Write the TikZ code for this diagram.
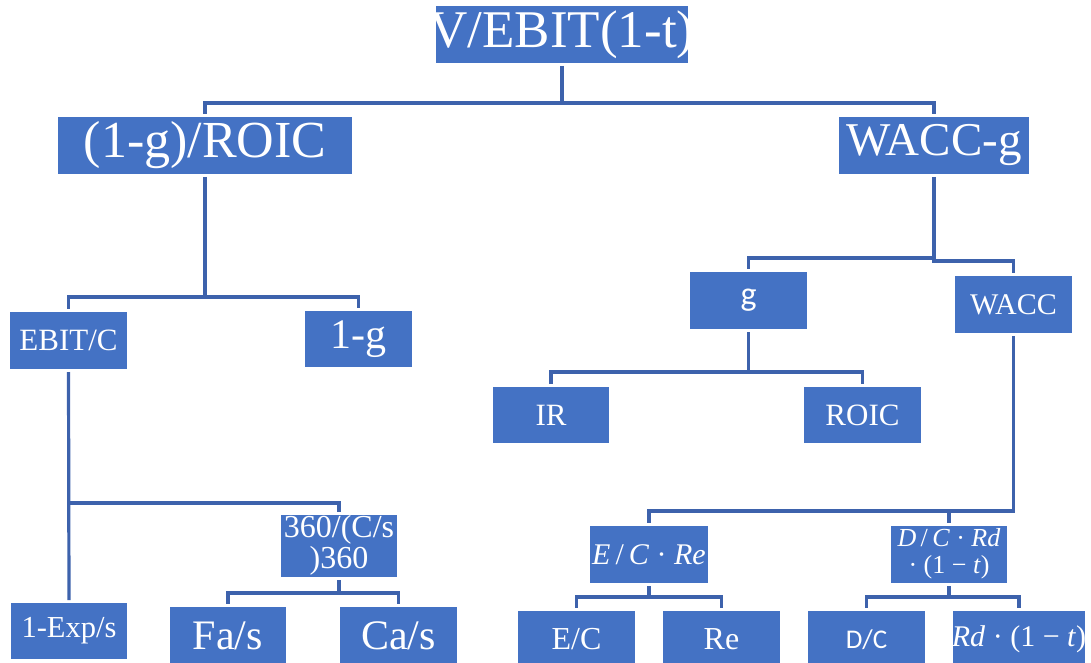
\documentclass[tikz,border=0pt]{standalone}
\usepackage{fontspec}
\setmainfont{Liberation Serif}
\newfontfamily\calsans{Carlito}
\definecolor{boxblue}{HTML}{4472C4}
\definecolor{linkblue}{HTML}{3D62AC}

% font size in px-sized points
\newcommand\fsz[1]{\fontsize{#1}{#1}\selectfont}
% zero-width centred label, so the box size is fixed by the style alone
\newcommand\lbl[2]{\makebox[0pt][c]{\fsz{#1}#2}}
\newcommand\twolines[4]{\makebox[0pt][c]{\fontsize{#1}{#2}\selectfont
  \begin{tabular}{@{}c@{}}#3\\#4\end{tabular}}}
% italic formula pieces
\newcommand\iv[1]{\textit{#1}}

\begin{document}
\begin{tikzpicture}[x=1pt,y=-1pt,
  box/.style={rectangle,fill=boxblue,text=white,inner sep=0pt,outer sep=0pt},
  link/.style={draw=linkblue,line width=3.2pt},
  fromnode/.style={shorten <=3pt},
  tonode/.style={shorten >=3pt},
]
\useasboundingbox (0,0) rectangle (1091,663);

% ---- boxes ----
\node[box,minimum width=252pt,minimum height=57pt] (top)   at (562,34.5)   {\lbl{53}{V/EBIT(1-t)}};
\node[box,minimum width=294pt,minimum height=57pt] (roicq) at (205,145.5)  {\lbl{52}{(1-g)/ROIC}};
\node[box,minimum width=190pt,minimum height=57pt] (waccg) at (934,145.5)  {\lbl{47}{WACC-g}};

\node[box,minimum width=117pt,minimum height=57pt] (ebitc) at (68.5,340.5) {\lbl{31}{EBIT/C}};
\node[box,minimum width=107pt,minimum height=56pt] (oneg)  at (358.5,339)  {\lbl{42}{1-g}};
\node[box,minimum width=117pt,minimum height=57pt] (g)     at (748.5,300.5){\lbl{34}{\calsans g}};
\node[box,minimum width=117pt,minimum height=57pt] (wacc)  at (1013.5,304.5){\lbl{30}{WACC}};

\node[box,minimum width=116pt,minimum height=56pt] (ir)    at (551,415)    {\lbl{31}{IR}};
\node[box,minimum width=117pt,minimum height=56pt] (roic)  at (862.5,415)  {\lbl{31}{ROIC}};

\node[box,minimum width=116pt,minimum height=56pt] (days)  at (339,546)    {\twolines{32}{30}{360/(C/s}{)360}};
\node[box,minimum width=118pt,minimum height=57pt] (ecre)  at (649,554.5)  {\lbl{30}{\iv{E}\,/\,\iv{C} · \iv{Re}}};
\node[box,minimum width=116pt,minimum height=57pt] (dcrd)  at (949,554.5)  {\twolines{26}{27}{\iv{D}\,/\,\iv{C} · \iv{Rd}}{· (1 − \iv{t})}};

\node[box,minimum width=116pt,minimum height=56pt] (exps)  at (69,631)     {\lbl{30.5}{1-Exp/s}};
\node[box,minimum width=116pt,minimum height=57pt] (fas)   at (228,635.5)  {\lbl{42}{Fa/s}};
\node[box,minimum width=117pt,minimum height=57pt] (cas)   at (398.5,635.5){\lbl{42}{Ca/s}};
\node[box,minimum width=117pt,minimum height=57pt] (ec)    at (576.5,639.5){\lbl{32}{E/C}};
\node[box,minimum width=117pt,minimum height=57pt] (re)    at (721.5,639.5){\lbl{32}{Re}};
\node[box,minimum width=117pt,minimum height=57pt] (dc)    at (866.5,639.5){\lbl{27}{\calsans D/C}};
\node[box,minimum width=132pt,minimum height=57pt] (rd)    at (1019,639.5) {\lbl{30}{\iv{Rd} · (1 − \iv{t})}};

% ---- bus levels of the tree ----
\coordinate (busA) at (0,103);
\coordinate (busB) at (0,297);
\coordinate (busCl) at (0,258);
\coordinate (busCr) at (0,261);
\coordinate (busD) at (0,372);
\coordinate (busE) at (0,503);
\coordinate (busF) at (0,511);
\coordinate (busG) at (0,593);
\coordinate (busH) at (0,597);

% ---- connectors ----
\draw[link,fromnode,tonode] (top.south) |- (top.south |- busA) -| (roicq.north);
\draw[link,tonode] (top.south |- busA) -| (waccg.north);

\draw[link,fromnode,tonode] (roicq.south) |- (roicq.south |- busB) -| (ebitc.north);
\draw[link,tonode] (roicq.south |- busB) -| (oneg.north);

\draw[link,fromnode,tonode] (waccg.south) |- (waccg.south |- busCl) -| (g.north);
\draw[link,tonode] ([xshift=-1.6pt]waccg.south |- busCr) -| (wacc.north);

\draw[link,fromnode,tonode] (g.south) |- (g.south |- busD) -| (ir.north);
\draw[link,tonode] (g.south |- busD) -| (roic.north);

\draw[link,fromnode,tonode] (ebitc.south) -- (exps.north);
\draw[link,tonode] (ebitc.south |- busE) -| (days.north);

\draw[link,fromnode,tonode] (wacc.south) |- (wacc.south |- busF) -| (ecre.north);
\draw[link,tonode] (dcrd.north |- busF) -- (dcrd.north);

\draw[link,fromnode,tonode] (days.south) |- (days.south |- busG) -| (fas.north);
\draw[link,tonode] (days.south |- busG) -| (cas.north);

\draw[link,fromnode,tonode] (ecre.south) |- (ecre.south |- busH) -| (ec.north);
\draw[link,tonode] (ecre.south |- busH) -| (re.north);

\draw[link,fromnode,tonode] (dcrd.south) |- (dcrd.south |- busH) -| (dc.north);
\draw[link,tonode] (dcrd.south |- busH) -| (rd.north);
\end{tikzpicture}
\end{document}
